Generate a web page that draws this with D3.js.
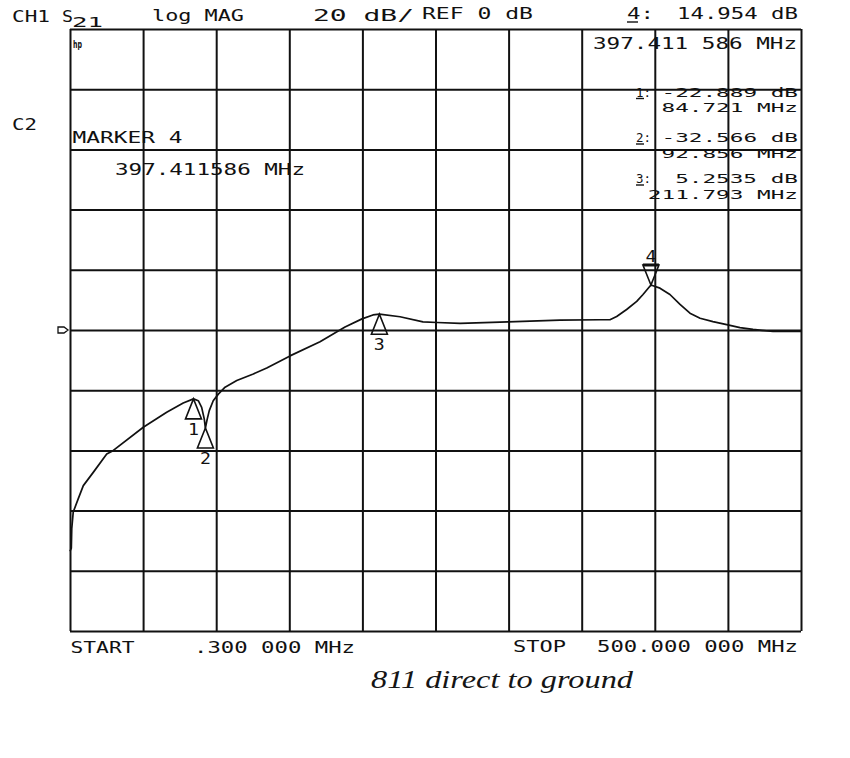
<!DOCTYPE html>
<html>
<head>
<meta charset="utf-8">
<script src="https://cdn.jsdelivr.net/npm/d3@7"></script>
<style>
  html, body { margin: 0; padding: 0; background: #fff; }
  svg { display: block; }
</style>
</head>
<body>
<svg id="chart" width="850" height="758"></svg>
<script>
// ---------------- data ----------------
const startMHz = 0.3;
const stopMHz = 500;
const refDb = 0;
const dbPerDiv = 20;
const divisions = 10;

const traceMHz = [0.3, 1.2, 1.5, 2.5, 5.9, 9.4, 16.2, 25.4, 29.7, 50.4, 66.4, 77.7, 84.721,
  88.0, 90.3, 92.1, 92.856, 94.1, 95.5, 98.2, 101.7, 106.3, 114.3, 125.6, 134.8, 150.7,
  171.2, 188.3, 199.9, 207.4, 211.793, 225.9, 241.6, 251.2, 267.0, 299.7, 335.2, 362.6,
  369.4, 374.0, 380.8, 387.7, 392.0, 397.411586, 403.6, 410.4, 417.3, 424.1, 431.0, 439.8,
  449.2, 458.3, 467.2, 480.9, 499.3, 500];
const traceDb = [-73.5, -72.5, -66, -60.5, -56.1, -51.7, -47.3, -41.2, -40.1, -32.3, -27.3, -24.25, -22.889,
  -23.5, -25.7, -29.6, -32.566, -29.6, -26.8, -23.5, -21.3, -19.0, -16.8, -14.6, -12.6, -8.6,
  -3.9, 1.0, 3.7, 5.0, 5.2535, 4.4, 2.7, 2.5, 2.2, 2.7, 3.3, 3.4,
  3.4, 4.5, 6.8, 9.5, 11.8, 14.954, 13.9, 11.8, 8.5, 5.6, 3.9, 2.8,
  1.8, 0.8, 0.2, -0.5, -0.5, -0.5];

const markerIds = [1, 2, 3, 4];
const markerMHz = [84.721, 92.856, 211.793, 397.411586];
const markerDb = [-22.889, -32.566, 5.2535, 14.954];
const markerDbText = ["-22.889 dB", "-32.566 dB", "5.2535 dB"];
const markerMHzText = ["84.721 MHz", "92.856 MHz", "211.793 MHz"];

// ---------------- layout ----------------
const svg = d3.select("#chart");
const L = 70, R = 801, T = 29, B = 631;
const ink = "#111";

const x = d3.scaleLinear().domain([startMHz, stopMHz]).range([L, R]);
const y = d3.scaleLinear()
  .domain([refDb - 5 * dbPerDiv, refDb + 5 * dbPerDiv])
  .range([B, T]);

const xTicks = d3.range(divisions + 1).map(i => startMHz + i * (stopMHz - startMHz) / divisions);
const yTicks = d3.range(divisions + 1).map(i => refDb - 5 * dbPerDiv + i * dbPerDiv);

// grid via axes
const gx = svg.append("g").attr("transform", `translate(0,${B})`)
  .call(d3.axisBottom(x).tickValues(xTicks).tickSize(-(B - T)).tickFormat(""));
const gy = svg.append("g").attr("transform", `translate(${L},0)`)
  .call(d3.axisLeft(y).tickValues(yTicks).tickSize(-(R - L)).tickFormat(""));
[gx, gy].forEach(g => {
  g.select(".domain").remove();
  g.selectAll(".tick line").attr("stroke", ink).attr("stroke-width", 2);
});

// reference position pointer
const yr = y(refDb);
svg.append("path")
  .attr("d", `M58,${yr - 3} h6 l4,3 l-4,3 h-6 z`)
  .attr("fill", "#fff").attr("stroke", ink).attr("stroke-width", 1.3);

// trace
const pts = traceMHz.map((f, i) => [f, traceDb[i]]);
svg.append("path")
  .datum(pts)
  .attr("fill", "none")
  .attr("stroke", ink)
  .attr("stroke-width", 1.7)
  .attr("stroke-linejoin", "round")
  .attr("d", d3.line().x(d => x(d[0])).y(d => y(d[1])));

// text helper
function txt(px, py, s, w, size = 15, anchor = "start") {
  return svg.append("text")
    .attr("x", px).attr("y", py)
    .attr("font-family", "DejaVu Sans Mono")
    .attr("font-size", size)
    .attr("fill", ink)
    .attr("text-anchor", anchor)
    .attr("textLength", w)
    .attr("lengthAdjust", "spacingAndGlyphs")
    .text(s);
}
function uline(x1, x2, yy) {
  svg.append("line").attr("x1", x1).attr("x2", x2).attr("y1", yy).attr("y2", yy)
    .attr("stroke", ink).attr("stroke-width", 1.4);
}

// markers
markerIds.forEach((id, i) => {
  const mx = x(markerMHz[i]), my = y(markerDb[i]);
  if (id !== 4) {
    svg.append("path")
      .attr("d", `M${mx},${my} L${mx - 8},${my + 20} L${mx + 8},${my + 20} Z`)
      .attr("fill", "none").attr("stroke", ink).attr("stroke-width", 1.6);
    txt(mx, my + 36, String(id), 11, 15, "middle");
  } else {
    svg.append("path")
      .attr("d", `M${mx},${my} L${mx - 8},${my - 20} L${mx + 8},${my - 20} Z`)
      .attr("fill", "none").attr("stroke", ink).attr("stroke-width", 1.6);
    svg.append("line").attr("x1", mx - 8).attr("x2", mx + 8)
      .attr("y1", my - 20).attr("y2", my - 20)
      .attr("stroke", ink).attr("stroke-width", 3);
    txt(mx, my - 23, String(id), 11, 15, "middle");
  }
});

// header
txt(12, 22, "CH1", 38);
txt(62, 22, "S", 11);
txt(72, 26.5, "21", 31, 14);
txt(152, 21, "log MAG", 92);
txt(313, 20.5, "20 dB/", 101);
txt(422, 19, "REF 0 dB", 111);
txt(627, 18.5, "4:", 27);
uline(627, 638, 22);
txt(677, 18.5, "14.954 dB", 121);
txt(593, 49, "397.411 586 MHz", 204);

// hp logo
svg.append("text").attr("x", 73).attr("y", 48)
  .attr("font-family", "DejaVu Sans").attr("font-weight", "bold")
  .attr("font-size", 10).attr("fill", ink)
  .attr("textLength", 9).attr("lengthAdjust", "spacingAndGlyphs").text("hp");

// left annotations
txt(12, 130, "C2", 25);
txt(72.5, 143, "MARKER 4", 110);
txt(115, 175, "397.411586 MHz", 190);

// marker list (tightly stacked, as on the instrument plot)
const listBase = [96.5, 142, 183];
const listBase2 = [112, 158, 199];
markerDbText.forEach((s, i) => {
  txt(636, listBase[i], markerIds[i] + ":", 15, 13);
  uline(636, 644, listBase[i] + 2);
  const w = s.length * 13.65;
  txt(798 - w, listBase[i], s, w, 13);
  const s2 = markerMHzText[i];
  const w2 = s2.length * 13.65;
  txt(798 - w2, listBase2[i], s2, w2, 13);
});

// footer
txt(70.5, 653, "START", 64);
txt(194, 653, ".300 000 MHz", 161);
txt(513, 651.5, "STOP", 53);
txt(597, 651.5, "500.000 000 MHz", 201);

// handwritten note
svg.append("text").attr("x", 371).attr("y", 688)
  .attr("font-family", "Liberation Serif").attr("font-style", "italic")
  .attr("font-size", 25).attr("fill", "#151515")
  .attr("textLength", 262).attr("lengthAdjust", "spacingAndGlyphs")
  .text("811 direct to ground");
</script>
</body>
</html>
